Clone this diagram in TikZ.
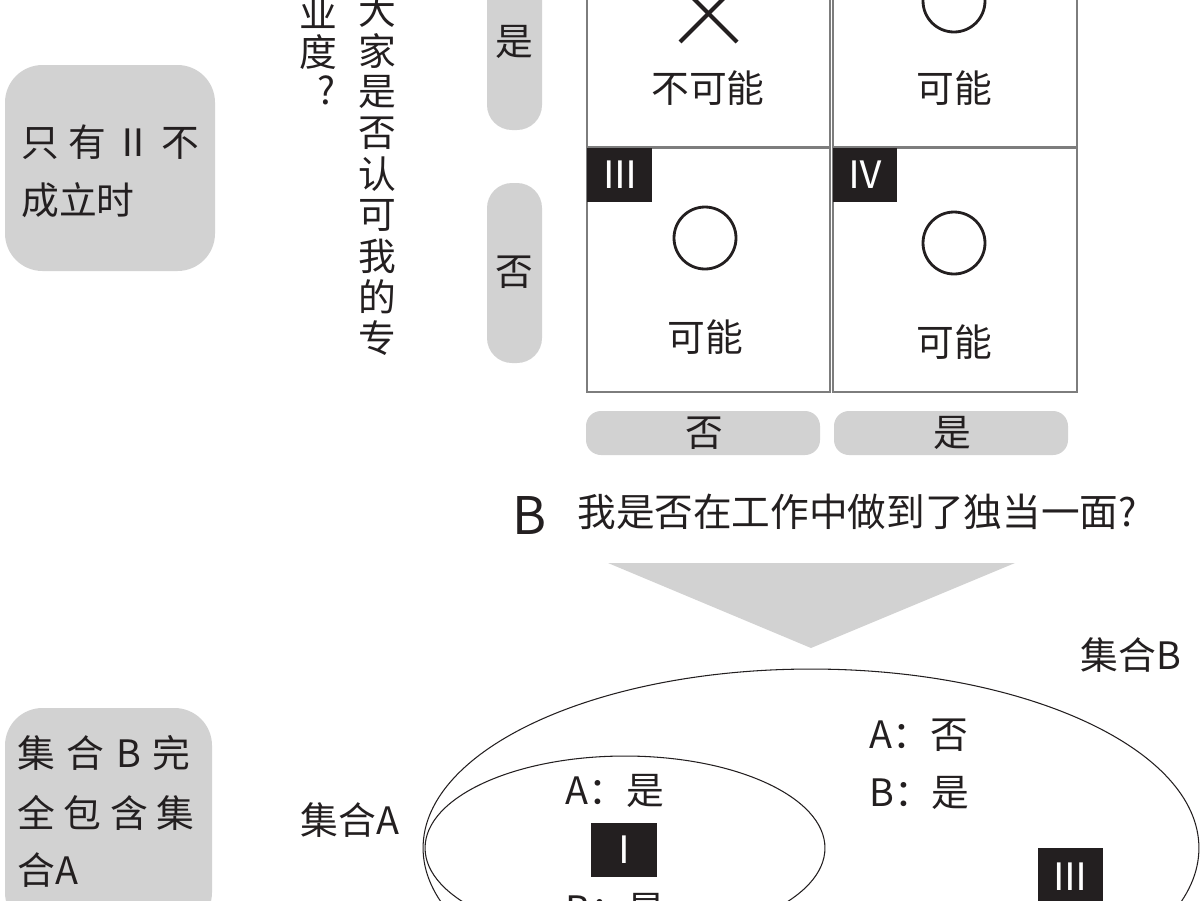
\documentclass[tikz,border=0pt]{standalone}
\usepackage{fontspec}
\setmainfont{Noto Sans CJK SC}
\definecolor{pillgray}{RGB}{210,210,210}
\definecolor{badgeblk}{RGB}{35,31,32}
\definecolor{ink}{RGB}{35,31,32}
\definecolor{cellgray}{RGB}{125,125,125}
\begin{document}
\begin{tikzpicture}[x=0.02cm,y=-0.02cm,
  txt/.style={font=\fontsize{21.5pt}{26pt}\selectfont, text=ink, inner sep=0pt},
  bigtxt/.style={font=\fontsize{22pt}{26pt}\selectfont, text=ink, inner sep=0pt},
  numeral/.style={font=\fontsize{21.5pt}{26pt}\selectfont, text=white, inner sep=0pt},
  graypill/.style={fill=pillgray},
  cellbox/.style={draw=cellgray, line width=0.8pt},
  badgebox/.style={fill=badgeblk},
  symb/.style={draw=ink, line width=1.6pt},
  crossline/.style={draw=ink, line width=2.4pt},
  setline/.style={draw=ink, line width=0.6pt}
]
\useasboundingbox (0,0) rectangle (1200,900);
\clip (0,0) rectangle (1200,900);

% ---------- left rounded boxes ----------
\fill[graypill, rounded corners=0.75cm] (5,65) rectangle (215,271);
\node[txt, anchor=west] (onlyA) at (21,142) {\makebox[3.56cm][s]{只\hfill 有\hfill Ⅱ\hfill 不}};
\node[txt, anchor=west] (onlyB) at (21,200) {成立时};

\fill[graypill, rounded corners=0.75cm] (5,708) rectangle (212,930);
\node[txt, anchor=west] (incA) at (17,753) {\makebox[3.46cm][s]{集\hfill 合\hfill B\hfill 完}};
\node[txt, anchor=west] (incB) at (17,813) {\makebox[3.54cm][s]{全\hfill 包\hfill 含\hfill 集}};
\node[txt, anchor=west] (incC) at (17,870) {合A};

% ---------- vertical question A ----------
\foreach \c [count=\i] in {大,家,是,否,认,可,我,的,专}
  \node[txt] (qa\i) at (377,{10+41*(\i-1)}) {\c};
\foreach \c [count=\i] in {业,度}
  \node[txt] (qb\i) at (318,{12+40*(\i-1)}) {\c};
\node[txt] (qb3) at (326,90) {?};

% ---------- row labels ----------
\fill[graypill, rounded corners=0.5cm] (487,-50) rectangle (542,130);
\fill[graypill, rounded corners=0.5cm] (487,183) rectangle (542,363);
\node[txt] (rowyes) at (514,42) {是};
\node[txt] (rowno) at (514,272) {否};

% ---------- grid ----------
\draw[cellbox] (587,-97) rectangle (830,147);
\draw[cellbox] (833,-97) rectangle (1077,147);
\draw[cellbox] (587,148) rectangle (830,392);
\draw[cellbox] (833,148) rectangle (1077,392);

\draw[crossline] (680,-15) -- (737,42);
\draw[crossline] (680,42) -- (737,-15);
\node[txt] (c1) at (708,88) {不可能};
\draw[symb] (954,1) circle[radius=0.62cm];
\node[txt] (c2) at (954,88) {可能};

\fill[badgebox] (587,148) rectangle (652,202);
\node[numeral] (n3) at (620,175) {Ⅲ};
\draw[symb] (705,238) circle[radius=0.62cm];
\node[txt] (c3) at (705,337) {可能};

\fill[badgebox] (833,148) rectangle (897,202);
\node[numeral] (n4) at (865,175) {Ⅳ};
\draw[symb] (954,243) circle[radius=0.62cm];
\node[txt] (c4) at (954,342) {可能};

% ---------- column labels ----------
\fill[graypill, rounded corners=0.3cm] (586,411) rectangle (820,455);
\fill[graypill, rounded corners=0.3cm] (834,411) rectangle (1068,455);
\node[txt] (colno) at (704,433) {否};
\node[txt] (colyes) at (952,433) {是};

% ---------- question B ----------
\node[font=\fontsize{29.5pt}{32pt}\selectfont, text=ink, inner sep=0pt] (qB) at (530,515) {B};
\node[bigtxt, anchor=west] (qBtext) at (577,512) {我是否在工作中做到了独当一面?};

% ---------- arrow ----------
\fill[pillgray] (608,563) -- (1015,563) -- (811,648) -- cycle;

% ---------- sets ----------
\draw[setline] (811,848) ellipse[x radius=7.76cm, y radius=3.58cm];
\draw[setline] (625,848) ellipse[x radius=4.0cm, y radius=1.84cm];
\node[txt] (setB) at (1131,655) {集合B};
\node[txt] (setA) at (350,820) {集合A};

\node[txt, anchor=west] (ba) at (869,735) {A：否};
\node[txt, anchor=west] (bb) at (869,793) {B：是};

\node[txt, anchor=west] (aa) at (565,791) {A：是};
\fill[badgebox] (591,823) rectangle (657,877);
\node[numeral] (n1) at (624,850) {Ⅰ};
\node[txt, anchor=west] (ab) at (565,910) {B：是};

\fill[badgebox] (1038,848) rectangle (1103,902);
\node[numeral] (n3b) at (1070,877) {Ⅲ};
\end{tikzpicture}
\end{document}
